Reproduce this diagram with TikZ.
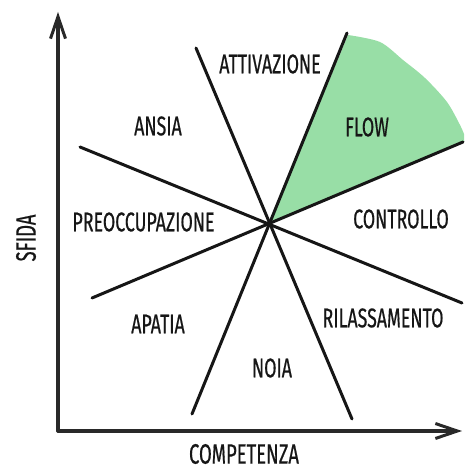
\documentclass[tikz,border=0pt]{standalone}
\usepackage{fontspec}
\newfontfamily\hand[FakeStretch=0.66,FakeBold=0.5]{Fira Sans}
\usetikzlibrary{arrows.meta}
\definecolor{ink}{RGB}{22,22,22}
\definecolor{flowgreen}{RGB}{152,222,166}
\begin{document}
\begin{tikzpicture}[x=1pt,y=-1pt,
  lbl/.style={font=\hand\fontsize{27}{27}\selectfont, text=ink, inner sep=0pt},
  axlbl/.style={font=\hand\fontsize{28}{28}\selectfont, text=ink, inner sep=0pt},
  divider/.style={line width=3pt, draw=ink, line cap=round},
  axis/.style={line width=3.2pt, draw=ink!92, line cap=round,
    -{Straight Barb[length=22pt,width=15pt,line width=3pt]}}]
\useasboundingbox (0,0) rectangle (464,470);
% key points
\coordinate (c) at (270,223);
\coordinate (a1) at (196,48);  \coordinate (a2) at (352,419);
\coordinate (b1) at (347,33);  \coordinate (b2) at (192,414);
\coordinate (c1) at (80,147);  \coordinate (c2) at (462,303);
\coordinate (d1) at (92,298);  \coordinate (d2) at (463,142);
\coordinate (o) at (58,431);
\coordinate (ytip) at (58,12);
\coordinate (xtip) at (462,431);
% flow region
\fill[flowgreen] (c) -- plot[smooth] coordinates {(348,35) (380,42) (403,60) (425,78) (447,102) (460,125) (464,134)} -- (464,142) -- cycle;
% dividers
\draw[divider] (a1) -- (a2);
\draw[divider] (b1) -- (b2);
\draw[divider] (c1) -- (c2);
\draw[divider] (d1) -- (d2);
% axes
\draw[axis] (o) -- (ytip);
\draw[axis] (o) -- (xtip);
% labels
\node[lbl] (attivazione) at (270,64) {ATTIVAZIONE};
\node[lbl] (ansia) at (158,126) {ANSIA};
\node[lbl] (flow) at (367,127) {FLOW};
\node[lbl] (preocc) at (143.5,222) {PREOCCUPAZIONE};
\node[lbl] (controllo) at (401,219) {CONTROLLO};
\node[lbl] (apatia) at (158,324) {APATIA};
\node[lbl] (rilass) at (383,318) {RILASSAMENTO};
\node[lbl] (noia) at (272,368) {NOIA};
\node[axlbl] (competenza) at (244,454) {COMPETENZA};
\node[axlbl, rotate=90] (sfida) at (26,238) {SFIDA};
\end{tikzpicture}
\end{document}
